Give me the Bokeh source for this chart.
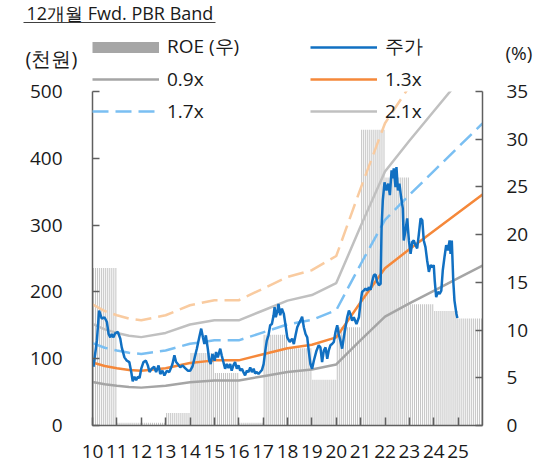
from bokeh.plotting import figure
from bokeh.layouts import column
from bokeh.models import (Range1d, LinearAxis, FixedTicker, Legend, LegendItem, Label, Arrow)
from bokeh.embed import file_html
from bokeh.resources import INLINE

FONT = "Open Sans"
NAN = float("nan")

# ---- data ----
years = list(range(2010, 2026))
roe = [16.5, 0.3, 0.3, 1.3, 7.6, 5.5, 0.3, 9.5, 8.1, 4.8, 10.3, 31.0, 26.0, 12.7, 12.0, 11.2]

bps_t = [2010.0, 2010.5, 2011.0, 2011.5, 2012.0, 2013.0, 2014.0, 2015.0, 2016.0, 2017.0,
         2018.0, 2019.0, 2020.0, 2021.0, 2022.0, 2023.0, 2024.0, 2025.0, 2026.0]
bps = [72.5, 68.5, 66.0, 64.0, 63.0, 66.0, 72.0, 75.0, 75.0, 82.0,
       89.0, 93.0, 101.5, 142.0, 181.0, 203.0, 224.0, 245.0, 266.0]
multiples = [0.9, 1.3, 1.7, 2.1, 2.5]
band_labels = ["0.9x", "1.3x", "1.7x", "2.1x", "2.5x"]

price_t = [2010.04, 2010.18, 2010.27, 2010.38, 2010.49, 2010.59, 2010.66, 2010.73, 2010.79, 2010.86,
           2010.93, 2011.04, 2011.14, 2011.20, 2011.31, 2011.41, 2011.51, 2011.59, 2011.65, 2011.72,
           2011.79, 2011.86, 2011.93, 2012.00, 2012.09, 2012.19, 2012.27, 2012.34, 2012.43, 2012.53,
           2012.61, 2012.71, 2012.78, 2012.87, 2012.95, 2013.05, 2013.15, 2013.23, 2013.28, 2013.36,
           2013.43, 2013.50, 2013.60, 2013.69, 2013.80, 2013.91, 2014.01, 2014.10, 2014.18, 2014.28,
           2014.38, 2014.46, 2014.53, 2014.59, 2014.65, 2014.73, 2014.79, 2014.85, 2014.92, 2015.01,
           2015.07, 2015.14, 2015.24, 2015.30, 2015.37, 2015.44, 2015.51, 2015.58, 2015.65, 2015.71,
           2015.78, 2015.85, 2015.92, 2015.99, 2016.06, 2016.13, 2016.19, 2016.26, 2016.33, 2016.40,
           2016.47, 2016.54, 2016.61, 2016.67, 2016.74, 2016.81, 2016.88, 2016.95, 2017.02, 2017.09,
           2017.15, 2017.22, 2017.29, 2017.36, 2017.43, 2017.47, 2017.52, 2017.59, 2017.63, 2017.70,
           2017.77, 2017.85, 2017.92, 2017.99, 2018.09, 2018.19, 2018.26, 2018.33, 2018.40, 2018.46,
           2018.53, 2018.60, 2018.67, 2018.74, 2018.81, 2018.87, 2018.94, 2019.01, 2019.08, 2019.19,
           2019.28, 2019.35, 2019.42, 2019.49, 2019.56, 2019.63, 2019.69, 2019.76, 2019.83, 2019.90,
           2019.97, 2020.04, 2020.10, 2020.17, 2020.24, 2020.31, 2020.38, 2020.45, 2020.52, 2020.58,
           2020.65, 2020.72, 2020.83, 2020.93, 2020.99, 2021.06, 2021.13, 2021.20, 2021.27, 2021.34,
           2021.41, 2021.47, 2021.54, 2021.61, 2021.68, 2021.75, 2021.82, 2021.86, 2021.91, 2021.98,
           2022.06, 2022.13, 2022.20, 2022.27, 2022.32, 2022.36, 2022.43, 2022.47, 2022.53, 2022.59,
           2022.66, 2022.73, 2022.77, 2022.84, 2022.91, 2022.98, 2023.05, 2023.12, 2023.18, 2023.25,
           2023.32, 2023.39, 2023.46, 2023.53, 2023.59, 2023.66, 2023.73, 2023.80, 2023.87, 2023.94,
           2024.00, 2024.04, 2024.10, 2024.17, 2024.24, 2024.31, 2024.37, 2024.44, 2024.51, 2024.58,
           2024.65, 2024.69, 2024.74, 2024.80, 2024.85, 2024.93, 2024.97]
price = [88, 127, 172, 160, 162, 155, 137, 132, 137, 132,
         138, 140, 130, 117, 102, 97, 95, 80, 66, 73,
         68, 73, 71, 85, 95, 97, 90, 80, 85, 88,
         80, 90, 77, 82, 75, 82, 80, 87, 92, 105,
         95, 92, 87, 90, 86, 82, 82, 88, 100, 115,
         132, 145, 132, 122, 135, 115, 97, 92, 107, 97,
         110, 102, 115, 105, 95, 85, 92, 86, 92, 82,
         90, 95, 85, 90, 82, 85, 80, 75, 82, 80,
         87, 80, 85, 78, 80, 77, 80, 83, 92, 112,
         127, 135, 150, 152, 165, 177, 162, 172, 182, 165,
         175, 167, 150, 132, 125, 130, 122, 135, 147, 152,
         157, 163, 147, 137, 132, 112, 92, 85, 97, 112,
         120, 117, 95, 112, 117, 100, 112, 120, 122, 125,
         140, 150, 137, 127, 115, 132, 147, 162, 172, 167,
         157, 162, 152, 162, 182, 200, 202, 205, 202, 207,
         203, 215, 225, 226, 215, 210, 212, 297, 337, 364,
         352, 362, 345, 382, 370, 385, 357, 387, 352, 362,
         342, 325, 277, 292, 310, 277, 257, 275, 277, 270,
         265, 287, 310, 307, 277, 267, 247, 230, 240, 237,
         240, 217, 192, 200, 197, 202, 232, 252, 270, 262,
         277, 257, 277, 217, 187, 167, 161]

x_ticks = list(range(2010, 2026))
x_tick_labels = ["10", "11", "12", "13", "14", "15", "16", "17",
                 "18", "19", "20", "21", "22", "23", "24", "25"]
left_ticks = [0, 100, 200, 300, 400, 500]
right_ticks = [0, 5, 10, 15, 20, 25, 30, 35]

# ---- layout (canvas px) ----
W = 543
HEAD_H = 91                      # header strip: title, units, first legend rows
OVERLAP = 16                     # main chart's transparent top border slides under the header's bottom
MAIN_H = 470 - HEAD_H + OVERLAP
FRAME_L, FRAME_R = 92, 482
FRAME_H = 334
FRAME_TOP = OVERLAP

AXIS_COLOR = "#5f5f5f"
TEXT_COLOR = "#1a1a1a"
band_colors = ["#A5A5A5", "#F5883A", "#7ABFF2", "#C0C0C0", "#F9CBA0"]
band_dash = ["solid", "solid", "16 7", "solid", "16 7"]
PRICE_COLOR = "#1170C2"
ROE_KEY_COLOR = "#A6A6A6"

legend_kw = dict(label_text_font=FONT, label_text_font_size="19px", label_text_color=TEXT_COLOR,
                 glyph_width=67, glyph_height=20, label_height=20, label_standoff=8,
                 spacing=6, padding=0, margin=0, border_line_alpha=0,
                 background_fill_alpha=0)
ITEM_H = 26.5  # measured legend row height for a 19px label

# ================= main chart =================
p = figure(width=W, height=MAIN_H, x_range=Range1d(2010, 2026), y_range=Range1d(0, 500),
           output_backend="svg", toolbar_location=None,
           min_border_left=FRAME_L, min_border_right=W - FRAME_R,
           min_border_top=FRAME_TOP, min_border_bottom=MAIN_H - FRAME_H - FRAME_TOP,
           margin=(-OVERLAP, 0, 0, 0))
p.frame_align = False
p.outline_line_color = None
p.border_fill_alpha = 0
p.background_fill_color = "white"
p.xgrid.visible = False
p.ygrid.visible = False


def style_axis(ax, standoff):
    ax.minor_tick_line_color = None
    ax.major_tick_in = 7
    ax.major_tick_out = 0
    ax.major_label_standoff = standoff
    ax.major_label_text_font = FONT
    ax.major_label_text_font_size = "19px"
    ax.major_label_text_color = TEXT_COLOR
    ax.axis_line_color = AXIS_COLOR
    ax.axis_line_width = 1.5
    ax.major_tick_line_color = AXIS_COLOR
    ax.major_tick_line_width = 1.5


xa = p.xaxis[0]
xa.ticker = FixedTicker(ticks=x_ticks)
xa.major_label_overrides = {t: s for t, s in zip(x_ticks, x_tick_labels)}
style_axis(xa, 19)
xa.major_tick_in = 8

ya = p.yaxis[0]
ya.ticker = FixedTicker(ticks=left_ticks)
style_axis(ya, 30)

p.extra_y_ranges = {"roe": Range1d(0, 35)}
ra = LinearAxis(y_range_name="roe", ticker=FixedTicker(ticks=right_ticks))
style_axis(ra, 24)
p.add_layout(ra, "right")

# ROE bars (one thin bar per month, value of that year)
bar_x = [y + (m + 0.5) / 12 for y in years for m in range(12)]
bar_top = [r for r in roe for m in range(12)]
p.vbar(x=bar_x, top=bar_top, bottom=0, width=1 / 24, y_range_name="roe",
       fill_color="#C4C4C4", line_color=None)

# PBR bands
band_renderers = {}
for mult, lab, col, dash in zip(multiples, band_labels, band_colors, band_dash):
    r = p.line(bps_t, [b * mult for b in bps], line_color=col, line_width=2.5,
               line_dash=dash)
    band_renderers[lab] = r

# price
r_price = p.line(price_t, price, line_color=PRICE_COLOR, line_width=2.5)

# third legend row (sits inside the chart area)
row3_center = 111 - HEAD_H       # below the frame top
vy3 = round(FRAME_H - (row3_center + ITEM_H / 2))
p.add_layout(Legend(items=[LegendItem(label="1.7x", renderers=[band_renderers["1.7x"]])],
                    location=(0, vy3), **legend_kw), "center")
p.add_layout(Legend(items=[LegendItem(label="2.1x", renderers=[band_renderers["2.1x"]])],
                    location=(218, vy3), **legend_kw), "center")

# ================= header strip =================
h = figure(width=W, height=HEAD_H, x_range=Range1d(0, W), y_range=Range1d(0, HEAD_H),
           output_backend="svg", toolbar_location=None,
           x_axis_type=None, y_axis_type=None,
           min_border_left=0, min_border_right=0, min_border_top=0, min_border_bottom=0)
h.frame_align = False
h.outline_line_color = None
h.xgrid.visible = False
h.ygrid.visible = False

# legend key proxies (no data drawn)
k_roe = h.line(x=[NAN], y=[NAN], line_color=ROE_KEY_COLOR, line_width=11)
k_09 = h.line(x=[NAN], y=[NAN], line_color=band_colors[0], line_width=2.5)
k_price = h.line(x=[NAN], y=[NAN], line_color=PRICE_COLOR, line_width=2.5)
k_13 = h.line(x=[NAN], y=[NAN], line_color=band_colors[1], line_width=2.5)

row2_center = 79
vy12 = round(HEAD_H - (row2_center + ITEM_H / 2))
h.add_layout(Legend(items=[LegendItem(label="ROE (우)", renderers=[k_roe]),
                           LegendItem(label="0.9x", renderers=[k_09])],
                    location=(FRAME_L, vy12), **legend_kw), "center")
h.add_layout(Legend(items=[LegendItem(label="주가", renderers=[k_price]),
                           LegendItem(label="1.3x", renderers=[k_13])],
                    location=(FRAME_L + 218, vy12), **legend_kw), "center")

# title with underline, unit captions (screen px, measured from the strip's bottom)
h.add_layout(Label(x=26, y=HEAD_H - 12.8, x_units="screen", y_units="screen",
                   text="12개월 Fwd. PBR Band", text_font=FONT, text_font_size="18px",
                   text_baseline="middle", text_align="left", text_color=TEXT_COLOR))
h.add_layout(Arrow(end=None, x_start=23, y_start=HEAD_H - 22, x_end=215, y_end=HEAD_H - 22,
                   start_units="screen", end_units="screen",
                   line_color="#404040", line_width=1))
h.add_layout(Label(x=25, y=HEAD_H - 58, x_units="screen", y_units="screen",
                   text="(천원)", text_font=FONT, text_font_size="20px",
                   text_baseline="middle", text_align="left", text_color=TEXT_COLOR))
h.add_layout(Label(x=505, y=HEAD_H - 52, x_units="screen", y_units="screen",
                   text="(%)", text_font=FONT, text_font_size="19px",
                   text_baseline="middle", text_align="left", text_color=TEXT_COLOR))

layout = column(h, p, spacing=0)
open("out.html", "w").write(file_html(layout, INLINE))
